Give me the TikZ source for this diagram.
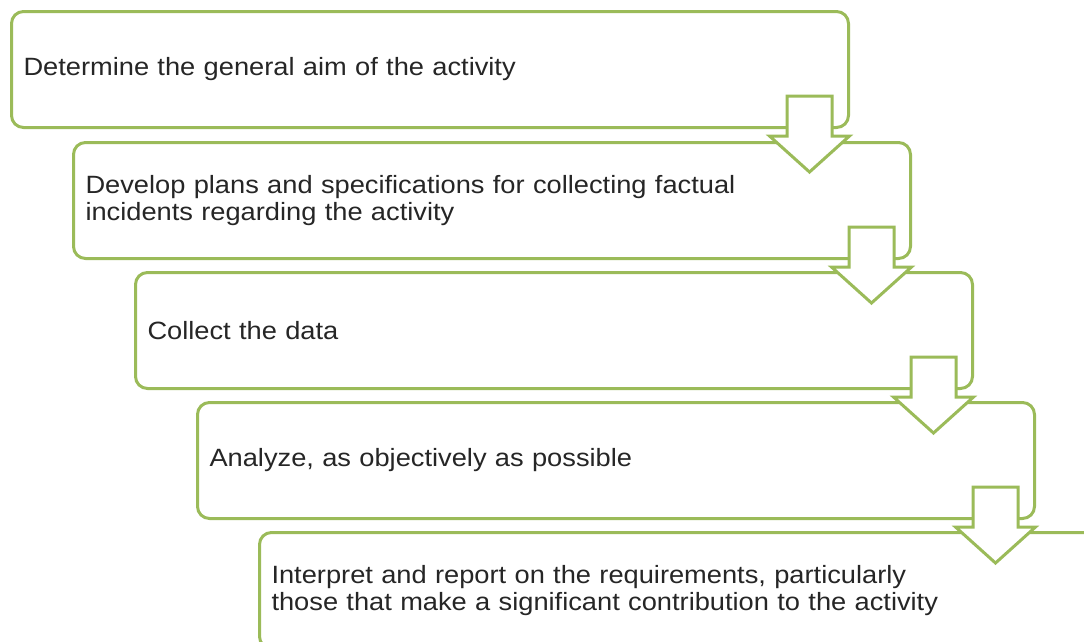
\documentclass[tikz,border=0pt]{standalone}
\usepackage{fontspec}
\setmainfont[FakeStretch=1.09]{Liberation Sans}
\usetikzlibrary{calc}
\definecolor{stepgreen}{RGB}{155,187,89}
\tikzset{
  stepbox/.style={draw=stepgreen, line width=3pt, rounded corners=12pt, fill=white,
    anchor=north west, minimum width=837pt, minimum height=116pt,
    text width=813pt, inner xsep=12pt, align=left, text=black!85,
    font=\fontsize{25}{27}\selectfont},
  steparrow/.style={draw=stepgreen, line width=3pt, fill=white, line join=miter}
}
\newcommand{\downblock}[1]{%
  \draw[steparrow, shift={(#1)}] (-22.5,0) -- (22.5,0) -- (22.5,40) -- (40,40)
    -- (0,76) -- (-40,40) -- (-22.5,40) -- cycle;}
\begin{document}
\begin{tikzpicture}[x=1pt, y=-1pt]
  \useasboundingbox (0,0) rectangle (1084,641);
  \clip (0,0) rectangle (1084,641);
  \node[stepbox] (s1) at (10,10) {Determine the general aim of the activity};
  \node[stepbox] (s2) at (72,141) {Develop plans and specifications for collecting factual\\incidents regarding the activity};
  \node[stepbox] (s3) at (134,271) {Collect the data};
  \node[stepbox] (s4) at (196,401) {Analyze, as objectively as possible};
  \node[stepbox] (s5) at (258,531) {Interpret and report on the requirements, particularly\\those that make a significant contribution to the activity};
  % arrows between the steps
  \foreach \i in {1,...,4}{
    \coordinate (a\i) at ($(s\i.south east)+(-40.5,-33)$);
    \downblock{a\i}
  }
\end{tikzpicture}
\end{document}
